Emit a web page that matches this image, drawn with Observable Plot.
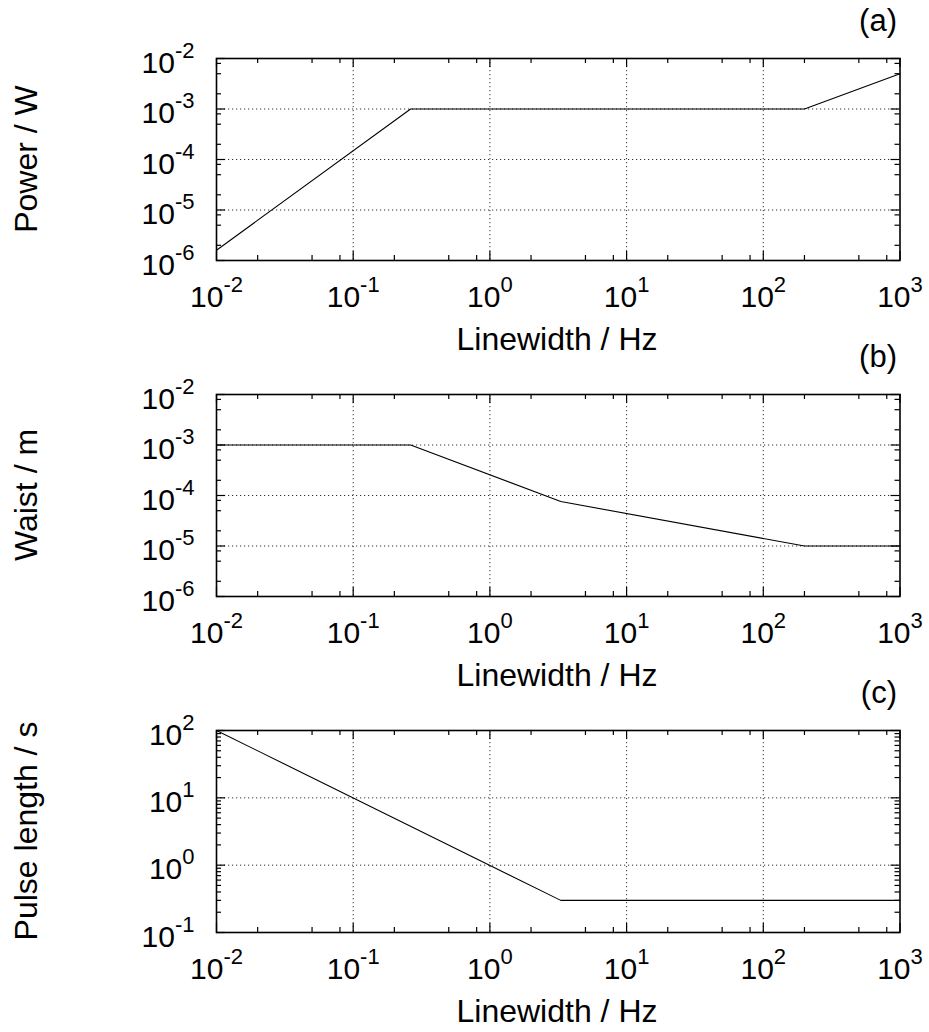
<!DOCTYPE html>
<html>
<head>
<meta charset="utf-8">
<script src="https://cdn.jsdelivr.net/npm/d3@7"></script>
<script src="https://cdn.jsdelivr.net/npm/@observablehq/plot@0.6"></script>
<style>
  html, body { margin: 0; padding: 0; background: white; }
  #chart { position: relative; width: 929px; height: 1032px; font-family: "Liberation Sans", Arial, sans-serif; }
  #chart svg { position: absolute; left: 0; }
</style>
</head>
<body>
<div id="chart"></div>
<script>
// ---- data ----
const xLabel = "Linewidth / Hz";
const xTicks = [1e-2, 1e-1, 1e0, 1e1, 1e2, 1e3];

const powerX = [0.01, 0.263, 200, 1000];
const powerY = [1.6e-6, 1e-3, 1e-3, 5e-3];
const powerTicks = [1e-6, 1e-5, 1e-4, 1e-3, 1e-2];

const waistX = [0.01, 0.263, 3.3, 200, 1000];
const waistY = [1e-3, 1e-3, 7.6e-5, 1e-5, 1e-5];
const waistTicks = [1e-6, 1e-5, 1e-4, 1e-3, 1e-2];

const pulseX = [0.01, 3.3, 1000];
const pulseY = [100, 0.3, 0.3];
const pulseTicks = [1e-1, 1e0, 1e1, 1e2];

const panels = [
  {letter: "(a)", ylabel: "Power / W", xs: powerX, ys: powerY, yTicks: powerTicks, yMinorSteps: [2, 5, 8]},
  {letter: "(b)", ylabel: "Waist / m", xs: waistX, ys: waistY, yTicks: waistTicks, yMinorSteps: [2, 5, 8]},
  {letter: "(c)", ylabel: "Pulse length / s", xs: pulseX, ys: pulseY, yTicks: pulseTicks, yMinorSteps: [2, 3, 4, 5, 6, 7, 8, 9]}
];
const xMinorSteps = [2, 5, 8];

// ---- layout ----
const W = 929, H = 360, mT = 58, mB = 100, mL = 216, mR = 29.5;
const plotW = W - mL - mR, plotH = H - mT - mB;
const majorLen = 9, minorLen = 5;
const fontMain = 30, fontSup = 22, fontLabel = 32;

function minors(decades, steps) {
  const out = [];
  for (let i = 0; i < decades.length - 1; i++) for (const s of steps) out.push(decades[i] * s);
  return out;
}
const expOf = v => Math.round(Math.log10(v));

const container = document.getElementById("chart");

panels.forEach((p, k) => {
  const data = p.xs.map((x, i) => ({x, y: p.ys[i]}));
  const yDom = [p.yTicks[0], p.yTicks[p.yTicks.length - 1]];
  const yMin = minors(p.yTicks, p.yMinorSteps);
  const xMin = minors(xTicks, xMinorSteps);
  const yInner = p.yTicks.slice(1, -1);
  const xInner = xTicks.slice(1, -1);
  const grid = {stroke: "#333", strokeWidth: 1, strokeDasharray: "1.2,2.8"};
  const tick = {stroke: "black", strokeWidth: 1.2};

  const svg = Plot.plot({
    width: W, height: H,
    marginTop: mT, marginBottom: mB, marginLeft: mL, marginRight: mR,
    style: {background: "transparent", fontFamily: "'Liberation Sans', Arial, sans-serif", overflow: "visible"},
    x: {type: "log", domain: [xTicks[0], xTicks[xTicks.length - 1]]},
    y: {type: "log", domain: yDom},
    marks: [
      Plot.ruleX(xInner, {...grid}),
      Plot.ruleY(yInner, {...grid}),
      // inward ticks, bottom/top
      Plot.tickX(xTicks, {...tick, insetTop: plotH - majorLen}),
      Plot.tickX(xTicks, {...tick, insetBottom: plotH - majorLen}),
      Plot.tickX(xMin, {...tick, insetTop: plotH - minorLen}),
      Plot.tickX(xMin, {...tick, insetBottom: plotH - minorLen}),
      // inward ticks, left/right
      Plot.tickY(p.yTicks, {...tick, insetRight: plotW - majorLen}),
      Plot.tickY(p.yTicks, {...tick, insetLeft: plotW - majorLen}),
      Plot.tickY(yMin, {...tick, insetRight: plotW - minorLen}),
      Plot.tickY(yMin, {...tick, insetLeft: plotW - minorLen}),
      Plot.line(data, {x: "x", y: "y", stroke: "black", strokeWidth: 1.1}),
      Plot.frame({stroke: "black", strokeWidth: 1.6}),
      Plot.axisX(xTicks, {anchor: "bottom", tickSize: 0, tickPadding: 46, fontSize: fontMain, label: null,
        tickFormat: d => "10^" + expOf(d)}),
      Plot.axisY(p.yTicks, {anchor: "left", tickSize: 0, tickPadding: 22, fontSize: fontMain, label: null,
        tickFormat: d => "10^" + expOf(d)})
    ]
  });
  svg.style.top = (k * 336) + "px";

  // superscript formatting of tick labels
  svg.querySelectorAll("text").forEach(t => {
    const s = t.textContent;
    if (!s.startsWith("10^")) return;
    const isY = t.closest("[aria-label='y-axis tick label']") !== null;
    t.textContent = "";
    t.setAttribute("y", isY ? "14" : "0");
    t.removeAttribute("dy");
    t.setAttribute("font-size", fontMain);
    t.style.fontSize = fontMain + "px";
    const ns = "http://www.w3.org/2000/svg";
    const base = document.createElementNS(ns, "tspan");
    base.textContent = "10";
    base.setAttribute("font-size", fontMain);
    const sup = document.createElementNS(ns, "tspan");
    sup.textContent = s.slice(3);
    sup.setAttribute("font-size", fontSup);
    sup.setAttribute("dy", "-15");
    t.appendChild(base);
    t.appendChild(sup);
  });

  const sel = d3.select(svg);
  // panel letter
  sel.append("text").attr("x", 897).attr("y", 31).attr("text-anchor", "end")
    .attr("font-size", 31).attr("fill", "black").text(p.letter);
  // x label
  sel.append("text").attr("x", 557).attr("y", 350).attr("text-anchor", "middle")
    .attr("font-size", fontLabel).attr("fill", "black").text(xLabel);
  // y label
  sel.append("text").attr("transform", `translate(37,${mT + plotH / 2}) rotate(-90)`)
    .attr("text-anchor", "middle").attr("font-size", fontLabel).attr("fill", "black").text(p.ylabel);

  container.appendChild(svg);
});
</script>
</body>
</html>
